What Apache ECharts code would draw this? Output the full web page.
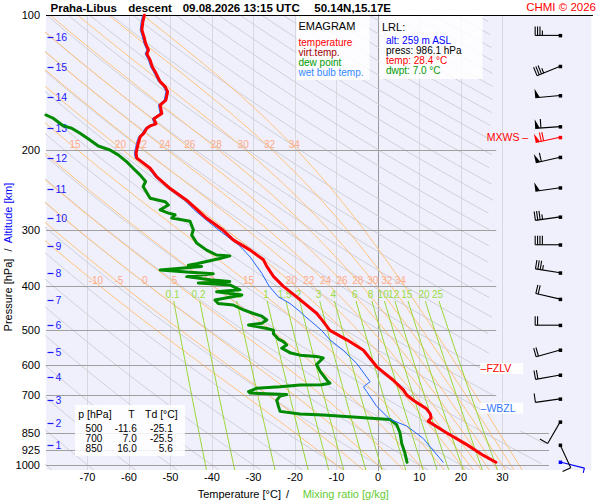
<!DOCTYPE html>
<html>
<head>
<meta charset="utf-8">
<title>Praha-Libus emagram</title>
<script src="https://cdn.jsdelivr.net/npm/echarts@6/dist/echarts.min.js"></script>
<style>
  html, body { margin: 0; padding: 0; background: #fff; }
  #chart { width: 600px; height: 500px; }
</style>
</head>
<body>
<div id="chart"></div>
<script>
// ---- sounding (pressure hPa / °C) ----
const tempP = [986, 952, 901, 848, 799, 785, 770, 750, 718, 700, 681, 648, 605, 574, 556, 527, 502, 476, 460, 423,
  401, 381, 362, 350, 333, 316, 300, 283, 258, 243, 229, 219, 212, 208, 203, 193, 186.5, 183, 178.5, 176.4,
  174.6, 170, 165.5, 158.5, 154.5, 148, 144.3, 140.6, 133.7, 130.3, 126, 122, 119.6, 115.6, 111.7, 108, 104, 100];
const tempT = [28.4, 25.4, 21.4, 16.5, 12.1, 12.8, 12.6, 11.7, 8.5, 7.0, 6.1, 3.7, -0.3, -2.3, -3.5, -7.5, -11.6, -13.5, -14.8, -19.6,
  -22.8, -25.2, -26.8, -27.6, -30.8, -34.9, -37.5, -41.3, -46.1, -50.1, -53.3, -54.9, -56.9, -58.1, -58.3, -57.8, -57.3, -56.4, -55.7, -54.9,
  -53.5, -54.0, -52.1, -52.5, -51.1, -50.7, -51.3, -52.5, -53.7, -54.4, -54.9, -55.7, -55.3, -56.0, -56.4, -56.9, -56.7, -56.3];

// dew point, from the top of the trace down to the ground
const dewP = [166.8, 169.8, 176.4, 178.5, 183.2, 189.6, 195.5, 199.5, 204.6, 211.8, 219, 226.9, 234.4, 240.6, 255.5, 259.9, 264.3, 271, 275.6, 278,
  282.6, 287.4, 300, 308.5, 321, 333, 341.5, 343, 347.7, 357, 360, 362, 368.5, 373, 376, 381.4, 387.7, 391, 394, 398,
  408, 412, 419, 430, 437.6, 441, 452, 460.6, 467, 476, 484, 488.5, 497.5, 502, 511, 525, 532, 541, 550, 564,
  570, 574, 578, 598, 620, 653, 658, 663, 664, 670, 675, 687, 692, 697, 703, 718, 740, 760, 770, 774,
  783, 792, 814, 848, 894, 942, 986];
const dewT = [-80, -78.2, -75.8, -73.8, -71.8, -69.4, -67.4, -64.6, -62.6, -60.6, -59, -57.3, -56, -56.6, -54.9, -51.3, -50.5, -52.5, -50.5, -48.9,
  -49.7, -45.3, -44.5, -44.9, -43.7, -41.3, -38.9, -35.7, -38.1, -43.7, -45.7, -42.5, -52.5, -45.3, -39.7, -46.1, -40.5, -35.7, -43.3, -35.7,
  -33.3, -38.9, -32.8, -39.3, -38.5, -34.9, -32.4, -30, -28, -26.8, -28, -31.2, -26.8, -25.2, -25.2, -24, -22.8, -22, -23.2, -21,
  -18.8, -14.8, -13.2, -14.8, -13.9, -12, -11.6, -13.6, -18.8, -23.6, -29.2, -31.2, -30.8, -22, -23.6, -24.4, -24, -23.6, -18.8, -13.2,
  -5.1, 2.9, 4.5, 5.3, 5.7, 6.5, 7];

const wetP = [986, 873, 819, 792, 741, 687, 670, 653, 595, 556, 527, 502, 467, 456, 437.6, 423, 401, 375, 345, 326,
  300, 283, 271, 258, 243, 229, 219, 212, 208, 203, 193, 186.5, 183, 178.5, 176.4, 174.6, 170, 165.5, 158.5, 154.5,
  148, 144.3, 140.6, 133.7, 130.3, 126, 122, 119.6, 115.6, 111.7, 108, 104, 100];
const wetT = [15.7, 10.9, 6.9, 2.9, -0.3, -2.7, -3.5, -1.9, -5.1, -8.4, -11.6, -13.6, -17.6, -18.8, -21.2, -24.0, -26.2, -28.0, -30.8, -33.3,
  -38.5, -41.9, -44.3, -46.6, -50.5, -53.7, -55.3, -57.3, -58.5, -58.7, -58.2, -57.7, -56.8, -56.1, -55.3, -53.9, -54.4, -52.5, -52.9, -51.5,
  -51.1, -51.7, -52.9, -54.1, -54.8, -55.3, -56.1, -55.7, -56.4, -56.8, -57.3, -57.1, -56.7];

// wind barbs: pressure, direction (deg, from), speed (kt)
const barbP = [985, 903, 802, 713, 631, 555, 489, 428, 374, 324, 281, 242, 207, 187, 177, 151, 130, 111];
const barbDir = [104, 155, 210, 262, 260, 254, 270, 283, 279, 270, 262, 262, 257, 258, 266, 265, 248, 270];
const barbSpd = [5, 10, 10, 10, 20, 20, 20, 20, 35, 40, 35, 50, 60, 70, 60, 50, 35, 35];

// special levels
const levelNames = ['FZLV', 'WBZL', 'MXWS'];
const levelP = [610, 748, 187];

// axes
const isobarP = [100, 200, 300, 400, 500, 600, 700, 850, 925, 1000];
const tempTicks = [-70, -60, -50, -40, -30, -20, -10, 0, 10, 20, 30];
const altKm = [1, 2, 3, 4, 5, 6, 7, 8, 9, 10, 11, 12, 13, 14, 15, 16];
const altP = [905, 807, 718, 636, 560, 489.5, 430, 374, 326, 282, 244, 208, 178, 152, 130.5, 112];

// emagram reference lines, by their label values
const dryTheta = [-80, -70, -60, -50, -40, -30, -20, -10, 0, 10, 20, 30, 40, 50, 60, 70, 80, 90, 100, 110,
  120, 130, 140, 150, 160, 170, 180, 190, 200, 210, 220, 230, 240, 250, 260, 270, 280, 290, 300];
const moistThetaW = [-10, -5, 0, 5, 10, 15, 20, 22, 24, 26, 28, 30, 32, 34];
const moistLabelsHigh = [15, 20, 22, 24, 26, 28, 30, 32, 34];
const mixRatio = [0.1, 0.2, 0.5, 1, 1.5, 2, 3, 4, 6, 8, 10, 12, 15, 20, 25];

// small table + station box
const tableP = [500, 700, 850];
const tableT = [-11.6, 7.0, 16.0];
const tableTd = [-25.1, -25.5, 5.6];
const station = { alt: 259, press: 986.1, temp: 28.4, dwpt: 7.0 };

// ---- layout ----
const FONT = '"Liberation Sans", Arial, sans-serif';
const P_MIN = 100, P_MAX = 1025.9;
const T_MIN = -80, T_MAX = 51.4;
const BARB_T = 43.9;
const C_ISO = '#a0a0a0', C_DRY = '#cfcfd8', C_MOIST = '#ffc27a', C_MIX = '#99d633';

function rightLimit(p) { return p >= 830 ? 40.5 : 27.8; }

// thermodynamics for the background lines
const RD = 287.04, CP = 1005.7, LV = 2.501e6, EPS = 0.622;
function satVap(tk) { return 6.112 * Math.exp(17.67 * (tk - 273.15) / (tk - 29.65)); }
function moistRate(tk, p) {
  const es = satVap(tk);
  const rs = EPS * es / (p - es);
  return (RD * tk + LV * rs) / (CP + LV * LV * rs * EPS / (RD * tk * tk));
}
function integrate(tk, p0, p1, n) {
  let x = Math.log(p0);
  const h = (Math.log(p1) - x) / n;
  for (let i = 0; i < n; i++) {
    const k1 = moistRate(tk, Math.exp(x));
    const k2 = moistRate(tk + h * k1 / 2, Math.exp(x + h / 2));
    const k3 = moistRate(tk + h * k2 / 2, Math.exp(x + h / 2));
    const k4 = moistRate(tk + h * k3, Math.exp(x + h));
    tk += h * (k1 + 2 * k2 + 2 * k3 + k4) / 6;
    x += h;
  }
  return tk;
}

const N_STEP = 140;
const pGrid = [];
for (let i = 0; i <= N_STEP; i++) pGrid.push(P_MIN * Math.pow(P_MAX / P_MIN, i / N_STEP));

function dryLine(theta) {
  return pGrid.map(p => [(theta + 273.15) * Math.pow(p / 1000, 0.2857) - 273.15, p]);
}
function moistLine(tw) {
  const down = [];
  let tk = tw + 273.15, prev = 1000;
  pGrid.filter(p => p > 1000).forEach(p => { tk = integrate(tk, prev, p, 4); prev = p; down.push([tk - 273.15, p]); });
  const up = [];
  tk = tw + 273.15; prev = 1000;
  pGrid.filter(p => p < 1000).reverse().forEach(p => { tk = integrate(tk, prev, p, 4); prev = p; up.push([tk - 273.15, p]); });
  return down.reverse().concat([[tw, 1000]], up);
}
function moistAt(tw, p) { return integrate(tw + 273.15, 1000, p, 60) - 273.15; }
function mixT(r, p) {
  const x = Math.log(r * p / (622 + r) / 6.112);
  return 243.5 * x / (17.67 - x);
}
function mixLine(r) {
  return pGrid.filter(p => p >= 430).map(p => [mixT(r, p), p]);
}
function clipRight(pts) {
  const segs = [];
  let cur = [];
  pts.forEach(pt => {
    if (pt[0] <= rightLimit(pt[1])) cur.push(pt);
    else if (cur.length) { segs.push(cur); cur = []; }
  });
  if (cur.length) segs.push(cur);
  return segs.filter(s => s.length > 1);
}

const series = [];
function refLine(points, color, z) {
  series.push({
    type: 'line', data: points, symbol: 'none', silent: true, animation: false, clip: true, z,
    lineStyle: { color, width: 1 }
  });
}
function profile(ps, ts, color, width, z) {
  series.push({
    type: 'line', data: ps.map((p, i) => [ts[i], p]), symbol: 'none', silent: true, animation: false, clip: true, z,
    lineStyle: { color, width, join: 'round', cap: 'round' }
  });
}
function textSeries(items, style, z, dx, dy) {
  series.push({
    type: 'custom', silent: true, animation: false, clip: false, z,
    data: items.map(it => [it.t, it.p]),
    renderItem: (params, api) => {
      const c = api.coord([api.value(0), api.value(1)]);
      return {
        type: 'text', x: c[0] + dx, y: c[1] + dy,
        style: Object.assign({
          text: items[params.dataIndex].text, font: '10px ' + FONT,
          align: 'center', textAlign: 'center', verticalAlign: 'middle', textVerticalAlign: 'middle'
        }, style)
      };
    }
  });
}

// vertical temperature lines
series.push({
  type: 'custom', silent: true, animation: false, clip: true, z: 1,
  data: tempTicks.map(t => [t, P_MIN]),
  renderItem: (params, api) => {
    const t = api.value(0);
    const a = api.coord([t, P_MIN]), b = api.coord([t, P_MAX]);
    const x = Math.round(a[0]) + 0.5;
    return { type: 'line', shape: { x1: x, y1: a[1], x2: x, y2: b[1] }, style: { stroke: t === 0 ? '#999999' : '#d8d8de', lineWidth: 1 } };
  }
});

dryTheta.forEach(th => clipRight(dryLine(th)).forEach(seg => refLine(seg, C_DRY, 2)));
moistThetaW.forEach(tw => refLine(moistLine(tw), C_MOIST, 3));
mixRatio.forEach(r => refLine(mixLine(r), C_MIX, 3));

// isobars with pressure labels
series.push({
  type: 'custom', silent: true, animation: false, clip: false, z: 4,
  data: isobarP.map(p => [T_MIN, p]),
  renderItem: (params, api) => {
    const p = api.value(1);
    const a = api.coord([T_MIN, p]);
    const b = api.coord([p === 100 ? T_MAX + 0.4 : rightLimit(p) + 0.7, p]);
    const y = Math.round(a[1]) + 0.5;
    return {
      type: 'group', children: [
        { type: 'line', shape: { x1: a[0], y1: y, x2: b[0], y2: y }, style: { stroke: p === 100 ? '#000' : C_ISO, lineWidth: 1 } },
        { type: 'text', x: a[0] - 6, y: a[1], style: { text: String(p), fill: '#000', font: '11px ' + FONT, align: 'right', textAlign: 'right', verticalAlign: 'middle', textVerticalAlign: 'middle' } }
      ]
    };
  }
});

// altitude ticks
series.push({
  type: 'custom', silent: true, animation: false, clip: false, z: 5,
  data: altP.map(p => [T_MIN, p]),
  renderItem: (params, api) => {
    const a = api.coord([T_MIN, api.value(1)]);
    const y = Math.round(a[1]) + 0.5;
    return {
      type: 'group', children: [
        { type: 'line', shape: { x1: a[0] + 1.5, y1: y, x2: a[0] + 7.5, y2: y }, style: { stroke: '#1a1aff', lineWidth: 1.2 } },
        { type: 'text', x: a[0] + 9.5, y: a[1], style: { text: String(altKm[params.dataIndex]), fill: '#1a1aff', font: '10.5px ' + FONT, align: 'left', textAlign: 'left', verticalAlign: 'middle', textVerticalAlign: 'middle' } }
      ]
    };
  }
});

// labels of moist adiabats and mixing ratio lines
textSeries(moistThetaW.map(tw => ({ t: moistAt(tw, 400), p: 400, text: String(tw) })), { fill: '#ffaa88' }, 5, -4, -5.5);
textSeries(moistLabelsHigh.map(tw => ({ t: moistAt(tw, 200), p: 200, text: String(tw) })), { fill: '#ffaa88' }, 5, -3, -5.5);
textSeries(mixRatio.map(r => ({ t: mixT(r, 430), p: 430, text: String(r) })), { fill: '#99dd44' }, 5, -1, -6);

// profiles
profile(dewP, dewT, '#008a00', 3, 6);
profile(wetP, wetT, '#2266ff', 1, 7);
profile(tempP, tempT, '#a00000', 1.5, 8);
profile(tempP, tempT, '#ff0000', 3, 9);

// special level labels
series.push({
  type: 'custom', silent: true, animation: false, clip: false, z: 10,
  data: levelP.map(p => [BARB_T, p]),
  renderItem: (params, api) => {
    const name = levelNames[params.dataIndex];
    const c = api.coord([BARB_T, api.value(1)]);
    const ref = api.coord([24.6, api.value(1)]);
    if (name === 'MXWS') {
      return { type: 'text', x: c[0] - 32, y: c[1], style: { text: 'MXWS \u2013', fill: '#ff0000', font: '10.5px ' + FONT, align: 'right', textAlign: 'right', verticalAlign: 'middle', textVerticalAlign: 'middle' } };
    }
    const color = name === 'FZLV' ? '#ff0000' : '#3377ff';
    return {
      type: 'group', children: [
        { type: 'rect', shape: { x: ref[0], y: c[1] - 5.5, width: 43, height: 11 }, style: { fill: 'rgba(255,255,255,0.9)' } },
        { type: 'text', x: ref[0] + 0.5, y: c[1], style: { text: '\u2013' + name, fill: color, font: '10.5px ' + FONT, align: 'left', textAlign: 'left', verticalAlign: 'middle', textVerticalAlign: 'middle' } }
      ]
    };
  }
});

// wind barbs
series.push({
  type: 'custom', silent: true, animation: false, clip: false, z: 6,
  data: barbP.map((p, i) => [BARB_T, p, barbDir[i], barbSpd[i]]),
  renderItem: (params, api) => {
    const i = params.dataIndex;
    const c = api.coord([BARB_T, api.value(1)]);
    const d = api.value(2) * Math.PI / 180;
    const s = [Math.sin(d), -Math.cos(d)];
    const f = [-s[1], s[0]];
    const L = 25, FL = 9, HL = 5;
    const color = api.value(1) === levelP[2] ? '#ff0000' : (i === 0 ? '#0000ff' : '#000000');
    const tip = [c[0] + s[0] * L, c[1] + s[1] * L];
    const at = k => [tip[0] - s[0] * k, tip[1] - s[1] * k];
    const kids = [
      { type: 'line', shape: { x1: c[0], y1: c[1], x2: tip[0], y2: tip[1] }, style: { stroke: color, lineWidth: 1.1 } },
      { type: 'rect', shape: { x: c[0] - 1.5, y: c[1] - 1.5, width: 3.5, height: 3.5 }, style: { fill: color } }
    ];
    let spd = Math.round(api.value(3) / 5) * 5;
    let pos = 0;
    while (spd >= 50) {
      const a = at(pos), b = at(pos + 4.5);
      kids.push({ type: 'polygon', shape: { points: [a, [a[0] + f[0] * FL, a[1] + f[1] * FL], b] }, style: { fill: color } });
      pos += 5.7; spd -= 50;
    }
    while (spd >= 10) {
      const a = at(pos);
      kids.push({ type: 'line', shape: { x1: a[0], y1: a[1], x2: a[0] + f[0] * FL, y2: a[1] + f[1] * FL }, style: { stroke: color, lineWidth: 1.1 } });
      pos += 2.4; spd -= 10;
    }
    if (spd >= 5) {
      const a = at(pos);
      kids.push({ type: 'line', shape: { x1: a[0], y1: a[1], x2: a[0] + f[0] * HL, y2: a[1] + f[1] * HL }, style: { stroke: color, lineWidth: 1.1 } });
    }
    return { type: 'group', children: kids };
  }
});

// ---- static texts ----
function txt(x, y, text, fill, size, extra) {
  return Object.assign({
    type: 'text', x, y, z: 100,
    style: { text, fill, font: size + 'px ' + FONT, align: 'left', textAlign: 'left', verticalAlign: 'middle', textVerticalAlign: 'middle' }
  }, extra || {});
}
function box(x, y, w, h) {
  return { type: 'rect', z: 99, shape: { x, y, width: w, height: h }, style: { fill: 'rgba(255,255,255,0.85)' } };
}
const elements = [
  txt(50.5, 7.5, 'Praha-Libus', '#000', 11.5),
  txt(128.3, 7.5, 'descent', '#000', 11.5),
  txt(182.7, 7.5, '09.08.2026 13:15 UTC', '#000', 11.5),
  txt(314.3, 7.5, '50.14N,15.17E', '#000', 11.5),
  txt(596, 7, 'CHMI \u00a9 2026', '#ff0000', 11.5),

  box(296.5, 16, 73, 64),
  txt(298.5, 26, 'EMAGRAM', '#000', 11),
  txt(298.5, 42, 'temperature', '#ff0000', 10),
  txt(298.5, 52, 'virt.temp.', '#a00000', 10),
  txt(298.5, 62, 'dew point', '#009900', 10),
  txt(298.5, 72, 'wet bulb temp.', '#3388ff', 10),

  box(379.5, 16, 103, 63),
  txt(382, 27, 'LRL:', '#000', 11),
  txt(386, 40, 'alt: ' + station.alt + ' m ASL', '#0000ff', 10),
  txt(386, 50, 'press: ' + station.press.toFixed(1) + ' hPa', '#000', 10),
  txt(386, 60, 'temp: ' + station.temp.toFixed(1) + ' \u00b0C', '#ff0000', 10),
  txt(386, 70, 'dwpt: ' + station.dwpt.toFixed(1) + ' \u00b0C', '#009900', 10),

  box(75, 405, 110, 51),
  txt(78.3, 413.5, 'p [hPa]', '#000', 10.5),
  txt(128.3, 413.5, 'T', '#000', 10.5),
  txt(145, 413.5, 'Td [\u00b0C]', '#000', 10.5),

  txt(197.7, 493.5, 'Temperature [\u00b0C]', '#000', 11),
  txt(286, 493.5, '/', '#000', 11),
  txt(302.7, 493.5, 'Mixing ratio [g/kg]', '#66cc33', 11),

  txt(8, 295, 'Pressure [hPa]', '#000', 11, { rotation: Math.PI / 2 }),
  txt(8, 250, '/', '#000', 11, { rotation: Math.PI / 2 }),
  txt(8, 213, 'Altitude [km]', '#0000ff', 11, { rotation: Math.PI / 2 })
];
[0, 1, 2, 3].forEach(i => { elements[i].style.font = 'bold 11.5px ' + FONT; });
elements[4].style.align = 'right';
elements[4].style.textAlign = 'right';
elements.slice(-3).forEach(el => { el.style.align = 'center'; el.style.textAlign = 'center'; });
tableP.forEach((p, i) => {
  const y = 428.5 + i * 10.1;
  const right = { align: 'right', textAlign: 'right', lineHeight: 9.5, font: '10px ' + FONT };
  const a = txt(102.3, y, String(p), '#000', 10); Object.assign(a.style, right);
  const b = txt(136.7, y, tableT[i].toFixed(1), '#000', 10); Object.assign(b.style, right);
  const c = txt(172.7, y, tableTd[i].toFixed(1), '#000', 10); Object.assign(c.style, right);
  elements.push(a, b, c);
});

const chart = echarts.init(document.getElementById('chart'), null, { renderer: 'svg' });
chart.setOption({
  animation: false,
  backgroundColor: '#ffffff',
  grid: { left: 46, top: 15, width: 545.3, height: 455, show: true, backgroundColor: '#f0f0fc', borderWidth: 0 },
  xAxis: {
    type: 'value', min: T_MIN, max: T_MAX, interval: 10,
    axisLine: { show: false }, axisTick: { show: false }, splitLine: { show: false },
    axisLabel: {
      margin: 1, color: '#000', fontSize: 11, fontFamily: FONT,
      formatter: v => (v >= -70 && v <= 30 ? String(v) : '')
    }
  },
  yAxis: {
    type: 'log', logBase: 10, min: P_MIN, max: P_MAX, inverse: true,
    axisLine: { show: true, lineStyle: { color: '#000', width: 1 } },
    axisTick: { show: false }, axisLabel: { show: false }, splitLine: { show: false }
  },
  graphic: { elements },
  series
});
</script>
</body>
</html>
